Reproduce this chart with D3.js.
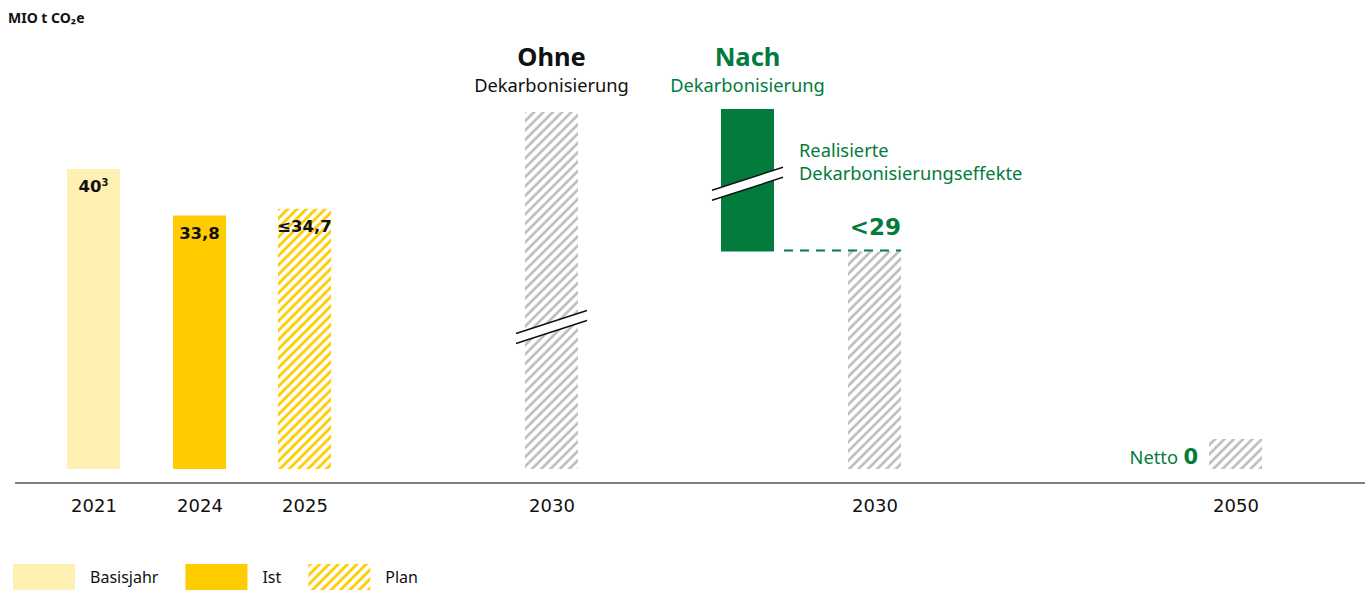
<!DOCTYPE html>
<html>
<head>
<meta charset="utf-8">
<script src="https://cdn.jsdelivr.net/npm/d3@7"></script>
<style>
  body { margin: 0; background: #fff; }
  svg text { font-family: "Noto Sans", "Open Sans", sans-serif; }
  svg text.num { font-family: "DejaVu Sans", sans-serif; }
</style>
</head>
<body>
<div id="chart"></div>
<script>
// data
var barKeys   = ["2021", "2024", "2025", "2030o", "2030n", "2050"];
var barYears  = ["2021", "2024", "2025", "2030", "2030", "2050"];
var barValues = [40, 33.8, 34.7, 47.6, 29, 4];
var barKinds  = ["basis", "ist", "plan", "grau", "grau", "grau"];
var barLabels = ["40", "33,8", "≤34,7", "", "", ""];
var effektKey = "effekt";
var effektRange = [29, 48];      // green bar: from <29 up to level without decarbonisation
var breakAt = {"2030o": 19.6, "effekt": 38.7};
var legendItems = [
  {kind: "basis", label: "Basisjahr"},
  {kind: "ist",   label: "Ist"},
  {kind: "plan",  label: "Plan"}
];

var W = 1370, H = 590;
var colors = {basis: "#fff0b3", ist: "#ffcc00", green: "#027b3c", gray: "#bdbdbd", axis: "#555"};

var svg = d3.select("#chart").append("svg").attr("width", W).attr("height", H);
var defs = svg.append("defs");

function hatch(id, color, sw) {
  var p = defs.append("pattern")
    .attr("id", id)
    .attr("patternUnits", "userSpaceOnUse")
    .attr("width", 6.6).attr("height", 6.6)
    .attr("patternTransform", "rotate(45)");
  p.append("rect").attr("width", 6.6).attr("height", 6.6).attr("fill", "#fff");
  p.append("line").attr("x1", 1.5).attr("x2", 1.5).attr("y1", 0).attr("y2", 6.6)
    .attr("stroke", color).attr("stroke-width", sw);
}
hatch("hatchPlan", colors.ist, 2.8);
hatch("hatchGray", colors.gray, 2.6);

function fillFor(kind) {
  if (kind == "basis") return colors.basis;
  if (kind == "ist") return colors.ist;
  if (kind == "plan") return "url(#hatchPlan)";
  return "url(#hatchGray)";
}

// scales
var x = d3.scaleOrdinal()
  .domain(barKeys.concat([effektKey]))
  .range([93.5, 199.5, 304.5, 551.5, 874.5, 1235.5, 747.5]);
var barW = 53;
var y = d3.scaleLinear().domain([0, 40]).range([469, 169]);

// axis
var axisY = 483;
svg.append("line")
  .attr("x1", 15).attr("x2", 1365).attr("y1", axisY).attr("y2", axisY)
  .attr("stroke", colors.axis).attr("stroke-width", 1.3);

var axis = d3.axisBottom(x)
  .tickValues(barKeys)
  .tickSize(0).tickPadding(16)
  .tickFormat(function(d, i) { return barYears[i]; });
var ax = svg.append("g").attr("transform", "translate(0," + axisY + ")").call(axis);
ax.select(".domain").remove();
ax.selectAll("text").attr("class", "num").attr("font-size", 18).attr("fill", "#111")
  .style("font-family", "DejaVu Sans, sans-serif");

// bars
var bars = svg.selectAll(".bar").data(barKeys).enter().append("rect")
  .attr("class", "bar")
  .attr("x", function(d) { return x(d) - barW / 2; })
  .attr("width", barW)
  .attr("y", function(d, i) { return y(barValues[i]); })
  .attr("height", function(d, i) { return y(0) - y(barValues[i]); })
  .attr("fill", function(d, i) { return fillFor(barKinds[i]); });

// value labels inside bars
var lab = svg.selectAll(".vlab").data(barKeys.slice(0, 3)).enter().append("text")
  .attr("class", "num vlab")
  .attr("x", function(d) { return x(d); })
  .attr("y", function(d, i) { return y(barValues[i]) + 23; })
  .attr("text-anchor", "middle")
  .attr("font-size", 16.5).attr("font-weight", "bold").attr("fill", "#111")
  .text(function(d, i) { return barLabels[i]; });
lab.filter(function(d, i) { return i == 0; })
  .append("tspan").attr("dy", -6).attr("font-size", 10).text("3");

// green effect bar
svg.append("rect")
  .attr("x", x(effektKey) - barW / 2).attr("width", barW)
  .attr("y", y(effektRange[1]))
  .attr("height", y(effektRange[0]) - y(effektRange[1]))
  .attr("fill", colors.green);

// dashed line at <29
svg.append("line")
  .attr("x1", x(effektKey) + barW / 2 + 10).attr("x2", x("2030n") + barW / 2)
  .attr("y1", y(effektRange[0]) - 1).attr("y2", y(effektRange[0]) - 1)
  .attr("stroke", colors.green).attr("stroke-width", 2.2)
  .attr("stroke-dasharray", "9,7");

svg.append("text")
  .attr("class", "num")
  .attr("x", x("2030n") + barW / 2).attr("y", y(effektRange[0]) - 17)
  .attr("text-anchor", "end")
  .attr("font-size", 23).attr("font-weight", "bold").attr("fill", colors.green)
  .text("<29");

// break marks
Object.keys(breakAt).forEach(function(k) {
  var cx = x(k), cy = y(breakAt[k]);
  var x0 = cx - barW / 2 - 9, x1 = cx + barW / 2 + 9;
  var rise = 11.5, gap = 10;
  svg.append("polygon")
    .attr("points", [[x0, cy + rise], [x1, cy - rise], [x1, cy - rise + gap], [x0, cy + rise + gap]].join(" "))
    .attr("fill", "#fff");
  [0, gap].forEach(function(o) {
    svg.append("line")
      .attr("x1", x0).attr("y1", cy + rise + o)
      .attr("x2", x1).attr("y2", cy - rise + o)
      .attr("stroke", "#111").attr("stroke-width", 1.4);
  });
});

// headers
function header(cx, title, color) {
  svg.append("text").attr("x", cx).attr("y", 66).attr("text-anchor", "middle")
    .attr("font-size", 25.5).attr("font-weight", "bold").attr("fill", color).text(title);
  svg.append("text").attr("x", cx).attr("y", 92).attr("text-anchor", "middle")
    .attr("font-size", 18.3).attr("fill", color).text("Dekarbonisierung");
}
header(x("2030o"), "Ohne", "#111");
header(x(effektKey), "Nach", colors.green);

var eff = svg.append("text").attr("x", 799).attr("y", 157)
  .attr("font-size", 18.3).attr("fill", colors.green);
eff.append("tspan").attr("x", 799).text("Realisierte");
eff.append("tspan").attr("x", 799).attr("dy", 23).text("Dekarbonisierungseffekte");

// Netto 0
var netX = x("2050") - barW / 2 - 11;
svg.append("text").attr("class", "num").attr("x", netX).attr("y", y(0) - 5)
  .attr("text-anchor", "end").attr("fill", colors.green)
  .attr("font-size", 21).attr("font-weight", "bold").text("0");
svg.append("text").attr("x", netX - 20).attr("y", y(0) - 5)
  .attr("text-anchor", "end").attr("fill", colors.green)
  .attr("font-size", 18.3).text("Netto");

// unit
var unit = svg.append("text").attr("x", 8).attr("y", 23)
  .attr("font-size", 14).attr("font-weight", "bold").attr("fill", "#111");
unit.text("MIO t CO₂e");

// legend
var legX = 13;
legendItems.forEach(function(d) {
  var g = svg.append("g").attr("transform", "translate(" + legX + ",564)");
  g.append("rect").attr("width", 62).attr("height", 26).attr("fill", fillFor(d.kind));
  var t = g.append("text").attr("x", 77).attr("y", 19)
    .attr("font-size", 16).attr("fill", "#111").text(d.label);
  legX += 77 + t.node().getComputedTextLength() + 27;
});
</script>
</body>
</html>
